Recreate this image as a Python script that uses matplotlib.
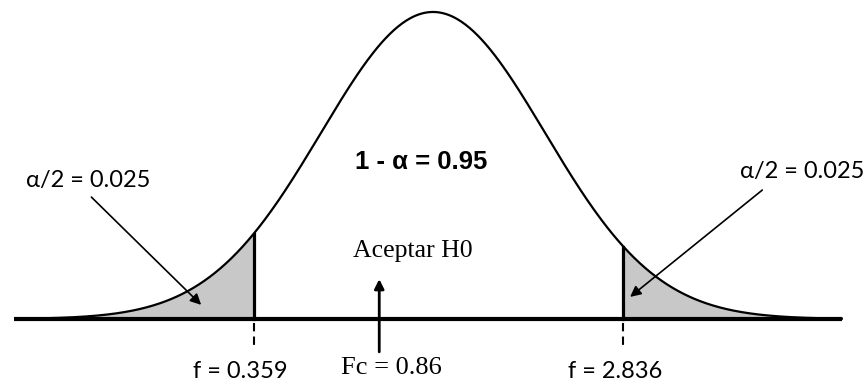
import numpy as np
import matplotlib
matplotlib.use('Agg')
import matplotlib.pyplot as plt

# schematic: curve drawn in z units (mean 0, sd 1), peak scaled to 1
mean, sd = 0.0, 1.0
z_start, z_end = -3.7, 3.65
z_crit = [-1.6, 1.7]
crit_labels = ['f = 0.359', 'f = 2.836']
fc_z = -0.48
fc_label = 'Fc = 0.86'
tail_label = 'α/2 = 0.025'
center_label = '1 - α = 0.95'
accept_label = 'Aceptar H0'


def bell(z):
    return np.exp(-0.5 * ((z - mean) / sd) ** 2)


fig = plt.figure(figsize=(8.64, 3.85), dpi=100)
ax = fig.add_axes([0, 0, 1, 1])
ax.set_xlim(-3.866, 3.848)
ax.set_ylim(-0.215, 1.039)
ax.axis('off')

z = np.linspace(z_start, z_end, 600)
ax.plot(z, bell(z), color='black', lw=1.6, zorder=3)

# shaded tails
zl = np.linspace(z_start, z_crit[0], 200)
ax.fill_between(zl, 0, bell(zl), color='#c8c8c8', zorder=1)
zr = np.linspace(z_crit[1], z_end, 200)
ax.fill_between(zr, 0, bell(zr), color='#c8c8c8', zorder=1)

# baseline
ax.plot([-3.74, z_end], [0, 0], color='black', lw=3.0, solid_capstyle='butt', zorder=4)

sans = 'Lato'
for zc, lab in zip(z_crit, crit_labels):
    ax.plot([zc, zc], [0, bell(zc)], color='black', lw=2.3, zorder=4)
    ax.plot([zc, zc], [-0.012, -0.10], color='black', lw=1.5,
            linestyle=(0, (4, 2.5)), zorder=4)
    ax.text(zc - 0.12 if zc < 0 else zc - 0.07, -0.172, lab, ha='center', va='center',
            fontsize=17, family=sans)

# tail arrows and labels
ax.annotate('', xy=(-2.07, 0.046), xytext=(-3.05, 0.397),
            arrowprops=dict(arrowstyle='-|>', color='black', lw=1.2,
                            mutation_scale=16, shrinkA=0, shrinkB=0))
ax.annotate('', xy=(1.76, 0.072), xytext=(2.94, 0.42),
            arrowprops=dict(arrowstyle='-|>', color='black', lw=1.2,
                            mutation_scale=16, shrinkA=0, shrinkB=0))
ax.text(-3.08, 0.45, tail_label, ha='center', va='center', fontsize=17, family=sans)
ax.text(3.3, 0.48, tail_label, ha='center', va='center', fontsize=17, family=sans)

ax.text(-0.11, 0.511, center_label, ha='center', va='center', fontsize=18.5,
        fontweight='bold', family='Liberation Sans')

# Fc arrow
ax.annotate('', xy=(fc_z, 0.13), xytext=(fc_z, -0.107),
            arrowprops=dict(arrowstyle='-|>', color='black', lw=2.0,
                            mutation_scale=14, shrinkA=0, shrinkB=0))
ax.text(-0.18, 0.22, accept_label, ha='center', va='center', fontsize=18.5,
        family='Liberation Serif')
ax.text(-0.37, -0.16, fc_label, ha='center', va='center', fontsize=19,
        family='Liberation Serif')

fig.savefig('out.png', dpi=100)
